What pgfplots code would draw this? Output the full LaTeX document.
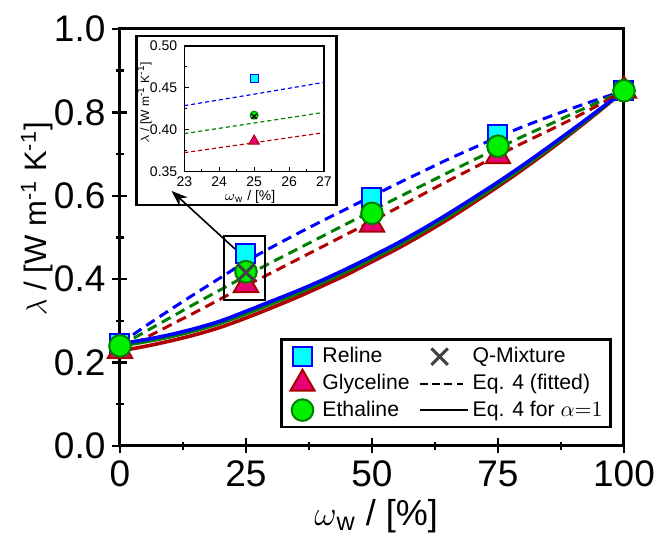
\documentclass[border=0pt]{standalone}
\usepackage{fontspec}
\setmainfont{Liberation Sans}
\usepackage{pgfplots}
\pgfplotsset{compat=1.18}
\usetikzlibrary{arrows.meta}
\definecolor{relfill}{RGB}{0,255,255}
\definecolor{reldraw}{RGB}{0,0,255}
\definecolor{glyfill}{RGB}{230,0,115}
\definecolor{glydraw}{RGB}{170,0,0}
\definecolor{ethfill}{RGB}{0,240,0}
\definecolor{ethdraw}{RGB}{0,128,0}
\definecolor{lblue}{RGB}{0,0,255}
\definecolor{lgreen}{RGB}{0,128,0}
\definecolor{lred}{RGB}{176,0,0}
\definecolor{qgray}{RGB}{64,64,64}

% legend images
\pgfplotsset{
  legmark/.style={legend image code/.code={\path[draw=none] (0cm,0cm) -- (0.58cm,0cm); \draw[##1] plot coordinates {(0.3cm,0cm)};}},
  legx/.style={legend image code/.code={\path[draw=none] (0pt,0pt) -- (22pt,0pt); \draw[##1] plot coordinates {(10pt,0pt)};}},
  legdash/.style={legend image code/.code={\draw[##1] (0pt,0pt) -- (21.5pt,0pt); \path[draw=none] (0pt,0pt) -- (22pt,0pt);}},
  legline/.style={legend image code/.code={\draw[##1] (0pt,0pt) -- (24pt,0pt);}},
}

\pgfplotstableread{
x blue green red
0 0.245 0.240 0.228
5 0.287 0.274 0.259
10 0.327 0.308 0.290
15 0.366 0.342 0.321
20 0.404 0.375 0.353
25 0.4425 0.408 0.3846
30 0.476 0.440 0.415
35 0.508 0.471 0.446
40 0.539 0.502 0.477
45 0.569 0.533 0.508
50 0.599 0.564 0.539
55 0.629 0.595 0.571
60 0.658 0.625 0.603
65 0.687 0.655 0.635
70 0.714 0.685 0.666
75 0.741 0.714 0.697
80 0.766 0.743 0.727
85 0.789 0.770 0.756
90 0.811 0.798 0.786
95 0.832 0.825 0.818
100 0.852 0.852 0.852
}\fitted

\pgfplotstableread{
x blue green red
0 0.245 0.240 0.228
5 0.255 0.250 0.239
10 0.267 0.262 0.252
15 0.282 0.277 0.267
20 0.300 0.295 0.285
25 0.323 0.317 0.307
30 0.347 0.341 0.331
35 0.371 0.365 0.356
40 0.397 0.391 0.383
45 0.425 0.419 0.411
50 0.455 0.449 0.442
55 0.486 0.480 0.473
60 0.520 0.514 0.507
65 0.556 0.550 0.543
70 0.594 0.588 0.582
75 0.633 0.627 0.622
80 0.674 0.669 0.664
85 0.717 0.712 0.708
90 0.761 0.757 0.754
95 0.806 0.804 0.802
100 0.852 0.852 0.852
}\alphaone

\pgfplotstableread{
x y
0 0.245
25 0.462
50 0.597
75 0.746
100 0.852
}\reline

\pgfplotstableread{
x y
0 0.228
25 0.386
50 0.531
75 0.695
100 0.852
}\glyceline

\pgfplotstableread{
x y
0 0.240
25 0.418
50 0.558
75 0.719
100 0.852
}\ethaline

\begin{document}
\begin{tikzpicture}
\path[use as bounding box] (-60pt,-44.5pt) rectangle (267.5pt,223pt);
\begin{axis}[
    name=main,
    at={(0,0)}, anchor=south west,
    scale only axis,
    width=252pt, height=208.5pt,
    xmin=0, xmax=100, ymin=0, ymax=1.0,
    clip=false,
    xtick={0,25,50,75,100},
    ytick={0,0.2,0.4,0.6,0.8,1.0},
    minor x tick num=1, minor y tick num=1,
    tick pos=left,
    tick align=center,
    major tick length=7.5pt, minor tick length=4pt,
    axis line style={line width=1.5pt},
    tick style={line width=1.2pt, black},
    /pgf/number format/assume math mode=true,
    yticklabel style={/pgf/number format/.cd, fixed, fixed zerofill, precision=1},
    tick label style={font=\fontsize{18.5}{20}\selectfont},
    xlabel={$\omega$\textsubscript{w} / [\%]},
    ylabel={$\lambda$ / [W m\textsuperscript{-1} K\textsuperscript{-1}]},
    xlabel style={font=\fontsize{18}{20}\selectfont, at={(axis description cs:0.508,-0.168)}, anchor=center},
    ylabel style={font=\fontsize{15.5}{18}\selectfont, at={(axis description cs:-0.165,0.545)}, anchor=center},
    legend columns=2,
    legend cell align=left,
    legend style={at={(0.976,0.042)}, anchor=south east, draw=black, line width=1.2pt,
        font=\fontsize{10.6}{14}\selectfont, inner sep=2pt,
        /tikz/every even column/.append style={column sep=2.5pt}},
]
% fitted Eq. 4 (dashed)
\addplot[forget plot, smooth, lblue, line width=1.5pt, dash pattern=on 5pt off 3pt] table[x=x, y=blue] {\fitted};
\addplot[forget plot, smooth, lgreen, line width=1.5pt, dash pattern=on 5pt off 3pt] table[x=x, y=green] {\fitted};
\addplot[forget plot, smooth, lred, line width=1.5pt, dash pattern=on 5pt off 3pt] table[x=x, y=red] {\fitted};
% Eq. 4 with alpha = 1 (solid)
\addplot[forget plot, smooth, lred, line width=1.8pt] table[x=x, y=red] {\alphaone};
\addplot[forget plot, smooth, lgreen, line width=1.8pt] table[x=x, y=green] {\alphaone};
\addplot[forget plot, smooth, lblue, line width=1.8pt] table[x=x, y=blue] {\alphaone};
% measured points
\addplot[forget plot, only marks, mark=square*, mark size=4.75pt, mark options={fill=relfill, draw=reldraw, line width=1pt}] table {\reline};
\addplot[forget plot, only marks, mark=triangle*, mark size=7pt, mark options={fill=glyfill, draw=glydraw, line width=1pt}] table {\glyceline};
\addplot[forget plot, only marks, mark=*, mark size=5.4pt, mark options={fill=ethfill, draw=ethdraw, line width=1pt}] table {\ethaline};
\addplot[forget plot, only marks, mark=x, mark size=5.8pt, mark options={draw=qgray, line width=1.5pt}] coordinates {(25,0.416)};

% zoom frame
\draw[black, line width=1pt] (axis cs:20.6,0.351) rectangle (axis cs:28.8,0.504);

% legend, row by row
\addlegendimage{only marks, legmark, mark=square*, mark size=4.75pt, mark options={fill=relfill, draw=reldraw, line width=1pt}}
\addlegendentry{Reline}
\addlegendimage{only marks, legx, mark=x, mark size=5.8pt, mark options={draw=qgray, line width=1.5pt}}
\addlegendentry{Q-Mixture}
\addlegendimage{only marks, legmark, mark=triangle*, mark size=7pt, mark options={fill=glyfill, draw=glydraw, line width=1pt}}
\addlegendentry{Glyceline}
\addlegendimage{legdash, black, line width=1pt, dash pattern=on 4pt off 2.2pt}
\addlegendentry{Eq. 4 (fitted)}
\addlegendimage{only marks, legmark, mark=*, mark size=5.4pt, mark options={fill=ethfill, draw=ethdraw, line width=1pt}}
\addlegendentry{Ethaline}
\addlegendimage{legline, black, line width=1pt}
\addlegendentry{Eq. 4 for $\alpha{=}1$}
\end{axis}

% inset frame
\draw[black, line width=1.2pt, fill=white] (8.35pt,120.5pt) rectangle (108.35pt,205pt);
% arrow from zoom frame to inset
\draw[black, line width=0.8pt, -{Stealth[length=8pt, width=6pt]}] (57.5pt,98.5pt) -- (25.85pt,127.5pt);

\begin{axis}[
    at={(32.15pt,137.15pt)}, anchor=south west,
    scale only axis,
    width=69.85pt, height=62.85pt,
    xmin=23, xmax=27, ymin=0.35, ymax=0.50,
    xtick={23,24,25,26,27},
    ytick={0.35,0.40,0.45,0.50},
    minor x tick num=1, minor y tick num=1,
    tick pos=left,
    tick align=inside,
    major tick length=2.5pt, minor tick length=1.3pt,
    axis line style={line width=0.6pt},
    tick style={line width=0.5pt, black},
    /pgf/number format/assume math mode=true,
    yticklabel style={/pgf/number format/.cd, fixed, fixed zerofill, precision=2},
    xticklabel style={yshift=1pt},
    tick label style={font=\fontsize{7}{8}\selectfont},
    xlabel={$\omega$\textsubscript{w} / [\%]},
    ylabel={$\lambda$ / [W m\textsuperscript{-1} K\textsuperscript{-1}]},
    xlabel style={font=\fontsize{7}{8}\selectfont, at={(axis description cs:0.47,-0.20)}, anchor=center},
    ylabel style={font=\fontsize{6}{7}\selectfont, at={(axis description cs:-0.285,0.55)}, anchor=center},
]
\addplot[lblue, line width=0.6pt, dash pattern=on 2pt off 1.5pt] coordinates {(23,0.4288) (25,0.4425) (27,0.4566)};
\addplot[lgreen, line width=0.6pt, dash pattern=on 2pt off 1.5pt] coordinates {(23,0.3954) (25,0.4081) (27,0.4208)};
\addplot[lred, line width=0.6pt, dash pattern=on 2pt off 1.5pt] coordinates {(23,0.3727) (25,0.3846) (27,0.3966)};
\addplot[only marks, mark=square*, mark size=2pt, mark options={fill=relfill, draw=reldraw, line width=0.5pt}] coordinates {(25,0.461)};
\addplot[only marks, mark=triangle*, mark size=3pt, mark options={fill=glyfill, draw=glydraw, line width=0.5pt}] coordinates {(25,0.3865)};
\addplot[only marks, mark=*, mark size=2pt, mark options={fill=ethfill, draw=ethdraw, line width=0.5pt}] coordinates {(25,0.4175)};
\addplot[only marks, mark=x, mark size=1.8pt, mark options={draw=black, line width=0.6pt}] coordinates {(25,0.416)};
\end{axis}
\end{tikzpicture}
\end{document}
